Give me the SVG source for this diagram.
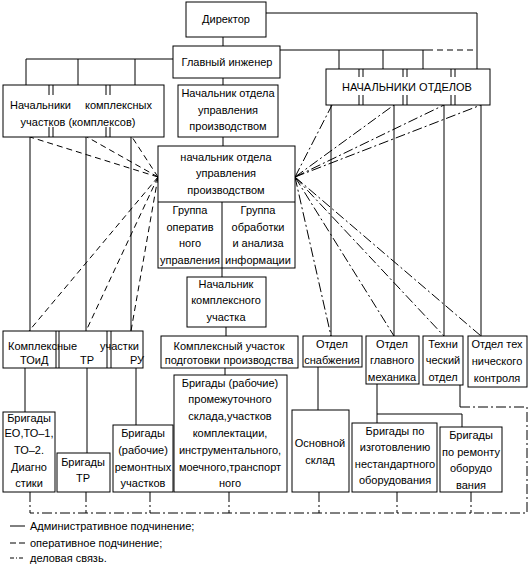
<svg xmlns="http://www.w3.org/2000/svg" width="531" height="566" viewBox="0 0 531 566">
<style>
.b{fill:#fff;stroke:#000;stroke-width:1}
.l{fill:none;stroke:#000;stroke-width:1}
.d{fill:none;stroke:#000;stroke-width:1;stroke-dasharray:6,4}
.dd{fill:none;stroke:#000;stroke-width:1;stroke-dasharray:10,3,2,3}
text{font-family:"Liberation Sans",Arial,sans-serif;font-size:11px;fill:#000}
.c{text-anchor:middle}
</style>
<rect width="531" height="566" fill="#fff"/>
<g id="connectors">
<path class="l" d="M223,37V46M266,13H477V69M173,59H26V85M78,59V85M135,59V85M280,50H427M339,50V69M383,50V69M423,50V69M223,78V85M223,137V146M222,268V277M226,327V336"/>
<path class="d" d="M427,50H477"/>
<path class="l" d="M30,137V331M86,137V331M131,137V331M25,368V412M87,368V453M136,368V425M225,368V375"/>
<path class="l" d="M331,105V336M394,105V336M444,105V336M481,105V336M318,367V410M377,384V423M377,414H462V427M460,385V407"/>
<path class="d" d="M158,177L30,137M158,177L87,137M158,177L132,137M158,177L29,331M158,177L86,331M158,177L131,331"/>
<path class="dd" d="M295,177L332,105M295,177L394,105M295,177L444,105M295,177L481,105M295,177L331,336M295,177L394,336M295,177L444,336M295,177L481,336"/>
<path class="dd" d="M460,407H527V513H30M30,492V513M86,492V513M150,492V513M229,492V513M319,492V513M397,492V513M471,492V513"/>
</g>
<g id="director"><rect class="b" x="186" y="2" width="80" height="35"/><text class="c" x="226" y="23">Директор</text></g>
<g id="glav"><rect class="b" x="173" y="46" width="107" height="32"/><text class="c" x="227" y="66">Главный инженер</text></g>
<g id="nach_kompl"><rect class="b" x="3" y="85" width="161" height="52"/>
<path class="l" d="M49,85V95M53,85V95M106,85V95M110,85V95M49,127V137M53,127V137M106,127V137M110,127V137"/>
<text x="10" y="109">Начальники</text><text x="85" y="109">комплексных</text><text class="c" x="78" y="126">участков (комплексов)</text></g>
<g id="nach_otd1"><rect class="b" x="178" y="85" width="100" height="52"/>
<text class="c" x="228" y="97">Начальник отдела</text><text class="c" x="228" y="114">управления</text><text class="c" x="228" y="130">производством</text></g>
<g id="nach_otdelov"><rect class="b" x="326" y="69" width="164" height="36"/>
<path class="l" d="M359,69V77M363,69V77M403,69V77M407,69V77M451,69V77M455,69V77M359,95V105M363,95V105M403,95V105M407,95V105M451,95V105M455,95V105"/>
<text class="c" x="407" y="91">НАЧАЛЬНИКИ ОТДЕЛОВ</text></g>
<g id="nach_otd2"><rect class="b" x="158" y="146" width="137" height="122"/>
<path class="l" d="M158,202H295M222,202V268"/>
<text class="c" x="226" y="161">начальник отдела</text><text class="c" x="226" y="177">управления</text><text class="c" x="226" y="194">производством</text>
<text class="c" x="190" y="214">Группа</text><text class="c" x="190" y="231">оператив</text><text class="c" x="190" y="247">ного</text><text class="c" x="190" y="264">управления</text>
<text class="c" x="258" y="214">Группа</text><text class="c" x="258" y="231">обработки</text><text class="c" x="258" y="247">и анализа</text><text class="c" x="258" y="264">информации</text></g>
<g id="nach_kompl_uch"><rect class="b" x="187" y="277" width="79" height="50"/>
<text class="c" x="226" y="288">Начальник</text><text class="c" x="226" y="304">комплексного</text><text class="c" x="226" y="321">участка</text></g>
<g id="kompl_uch_pp"><rect class="b" x="161" y="336" width="137" height="32"/>
<text class="c" x="229" y="350">Комплексный участок</text><text class="c" x="229" y="364">подготовки производства</text></g>
<g id="kompl_uchastki"><rect class="b" x="3" y="331" width="140" height="37"/>
<path class="l" d="M56,331V368M59,331V368M107,331V368M111,331V368"/>
<text x="8" y="350">Комплексные</text><text x="100" y="350">участки</text><text x="20" y="364">ТОиД</text><text x="80" y="364">ТР</text><text x="130" y="364">РУ</text></g>
<g id="otd_snab"><rect class="b" x="303" y="336" width="59" height="31"/>
<text class="c" x="332" y="348">Отдел</text><text class="c" x="332" y="364">снабжения</text></g>
<g id="otd_meh"><rect class="b" x="366" y="336" width="53" height="48"/>
<text class="c" x="392" y="348">Отдел</text><text class="c" x="392" y="364">главного</text><text class="c" x="392" y="381">механика</text></g>
<g id="tech_otd"><rect class="b" x="423" y="336" width="40" height="49"/>
<text class="c" x="443" y="348">Техни</text><text class="c" x="443" y="364">ческий</text><text class="c" x="443" y="381">отдел</text></g>
<g id="otk"><rect class="b" x="468" y="336" width="59" height="51"/>
<text class="c" x="497" y="348">Отдел тех</text><text class="c" x="497" y="365">нического</text><text class="c" x="497" y="382">контроля</text></g>
<g id="br_eo"><rect class="b" x="3" y="412" width="52" height="80"/>
<text class="c" x="29" y="422">Бригады</text><text class="c" x="29" y="437">ЕО,ТО–1,</text><text class="c" x="29" y="454">ТО–2.</text><text class="c" x="29" y="471">Диагно</text><text class="c" x="29" y="487">стики</text></g>
<g id="br_tr"><rect class="b" x="57" y="453" width="53" height="39"/>
<text class="c" x="83" y="466">Бригады</text><text class="c" x="83" y="482">ТР</text></g>
<g id="br_rem"><rect class="b" x="113" y="425" width="60" height="67"/>
<text class="c" x="143" y="437">Бригады</text><text class="c" x="143" y="454">(рабочие)</text><text class="c" x="143" y="471">ремонтных</text><text class="c" x="143" y="487">участков</text></g>
<g id="br_prom"><rect class="b" x="174" y="375" width="113" height="117"/>
<text class="c" x="230" y="387">Бригады (рабочие)</text><text class="c" x="230" y="403">промежуточного</text><text class="c" x="230" y="420">склада,участков</text><text class="c" x="230" y="437">комплектации,</text><text class="c" x="230" y="454">инструментального,</text><text class="c" x="230" y="471">моечного,транспорт</text><text class="c" x="230" y="487">ного</text></g>
<g id="osn_sklad"><rect class="b" x="292" y="410" width="57" height="82"/>
<text class="c" x="320" y="447">Основной</text><text class="c" x="320" y="464">склад</text></g>
<g id="br_izg"><rect class="b" x="352" y="423" width="85" height="69"/>
<text class="c" x="395" y="435">Бригады по</text><text class="c" x="395" y="451">изготовлению</text><text class="c" x="395" y="468">нестандартного</text><text class="c" x="395" y="484">оборудования</text></g>
<g id="br_remob"><rect class="b" x="440" y="427" width="62" height="65"/>
<text class="c" x="471" y="439">Бригады</text><text class="c" x="471" y="456">по ремонту</text><text class="c" x="471" y="472">оборудо</text><text class="c" x="471" y="489">вания</text></g>
<g id="legend">
<path class="l" d="M10,526H25"/><path class="l" stroke-dasharray="6,3" d="M10,543H25"/><path class="l" stroke-dasharray="4,2,1,2" d="M10,558H25"/>
<text x="30" y="530">Административное подчинение;</text><text x="30" y="547">оперативное подчинение;</text><text x="30" y="562">деловая связь.</text></g>
</svg>
